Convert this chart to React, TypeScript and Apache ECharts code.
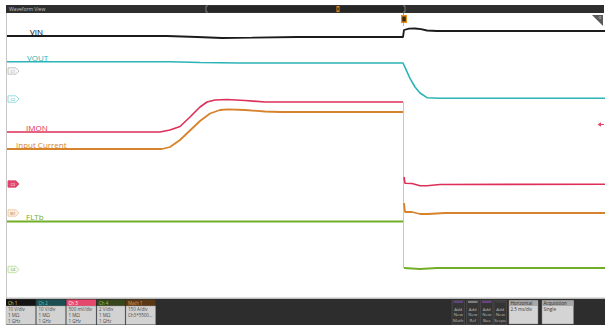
import React, { useEffect, useRef } from "react";
import * as echarts from "echarts";

// ---- Data (x: sample position across the record, y: level on screen) ----
const vinData: (number | null)[][] = [
  [0, 262], [160, 262], [190, 261], [215, 260], [245, 260.3], [290, 261], [396, 261],
  [397, 268], [402, 269.3], [408, 269.5], [414, 268.8], [420, 267.5], [430, 267], [598, 267],
];
const voutData: (number | null)[][] = [
  [0, 236.3], [163, 236.3], [193, 235.5], [233, 235], [396, 235],
  [403, 219.7], [408, 211], [413, 205], [420, 200.3], [433, 199.7], [598, 199.7],
];
const imonData: (number | null)[][] = [
  [0, 166], [153, 166], [163, 168], [173, 171.5], [183, 181], [193, 191], [200, 196],
  [208, 198], [220, 198.5], [238, 197.5], [258, 196], [396, 196],
  [396.5, null],
  [397, 121], [398, 114.7], [405, 114.5], [413, 112.3], [420, 112.2], [433, 113.5], [598, 113.7],
];
const inputCurrentData: (number | null)[][] = [
  [0, 149], [155, 149], [163, 151], [173, 158], [183, 167.5], [193, 177], [203, 184.5],
  [213, 188], [221, 188.7], [238, 188], [258, 186.5], [273, 186], [396, 186],
  [396.5, null],
  [397, 95], [398, 86], [405, 86], [413, 84], [421, 84], [438, 85], [598, 85],
];
const fltbData: (number | null)[][] = [
  [0, 76.5], [396, 76.5],
  [396.5, null],
  [397, 30], [413, 29], [430, 30], [598, 30],
];
const transitionData: number[][] = [[396.5, 196], [396.5, 30]];

const traceNames = ["VIN", "VOUT", "IMON", "Input Current", "FLTb"];

const chanHeaders = ["Ch 1", "Ch 2", "Ch 3", "Ch 4", "Math 1"];
const chanLine1 = ["10 V/div", "10 V/div", "500 mV/div", "2 V/div", "150 A/div"];
const chanLine2 = ["1 MΩ", "1 MΩ", "1 MΩ", "1 MΩ", "Ch3*5500..."];
const chanLine3 = ["1 GHz", "1 GHz", "1 GHz", "1 GHz", ""];
const buttonLabels = ["Math", "Ref", "Bus", "Scope"];
const horizontalValue = "2.5 ms/div";
const acquisitionValue = "Single";

const C_VIN = "#1c1c1c";
const C_VOUT = "#2bb3b5";
const C_IMON = "#dd2f58";
const C_IC = "#d7832c";
const C_FLT = "#72ad2a";

const FONT = "Open Sans";

function buildGraphic() {
  const g: any[] = [];
  // top bar
  g.push({ type: "rect", shape: { x: 6, y: 5, width: 598, height: 8 }, style: { fill: "#2e2e2e" }, silent: true });
  g.push({ type: "text", x: 9, y: 9, style: { text: "Waveform View", fontSize: 5, fill: "#c4c4c4", fontFamily: FONT, verticalAlign: "middle" } });
  g.push({ type: "rect", shape: { x: 206, y: 5.5, width: 199, height: 7 }, style: { fill: "#262626", stroke: "#3c3c3c", lineWidth: 0.6 } });
  g.push({ type: "polyline", shape: { points: [[208, 6], [206, 6], [206, 12], [208, 12]] }, style: { stroke: "#8a8a8a", lineWidth: 0.8, fill: "none" } });
  g.push({ type: "polyline", shape: { points: [[403, 6], [405, 6], [405, 12], [403, 12]] }, style: { stroke: "#8a8a8a", lineWidth: 0.8, fill: "none" } });
  g.push({ type: "rect", shape: { x: 336.5, y: 6, width: 3, height: 6 }, style: { fill: "#e08a1e" } });
  g.push({ type: "rect", shape: { x: 337.3, y: 7.5, width: 1.4, height: 3 }, style: { fill: "#3a2a10" } });

  // plot frame
  g.push({ type: "line", shape: { x1: 6.5, y1: 13, x2: 6.5, y2: 298 }, style: { stroke: "#c6c6c6", lineWidth: 1 } });
  g.push({ type: "rect", shape: { x: 6, y: 297.5, width: 599, height: 1.6 }, style: { fill: "#bdbdbd" } });
  g.push({ type: "rect", shape: { x: 6, y: 299, width: 599, height: 26 }, style: { fill: "#2d2d2d" } });

  // trigger marker
  g.push({ type: "line", shape: { x1: 403.5, y1: 13, x2: 403.5, y2: 15 }, style: { stroke: "#e8901e", lineWidth: 1 } });
  g.push({ type: "rect", shape: { x: 401, y: 15, width: 6, height: 8 }, style: { fill: "#e8901e" } });
  g.push({ type: "rect", shape: { x: 402.2, y: 16.5, width: 3.6, height: 5 }, style: { fill: "#3b2a12" } });
  g.push({ type: "line", shape: { x1: 403.5, y1: 23, x2: 403.5, y2: 26 }, style: { stroke: "#e8901e", lineWidth: 0.8 } });

  // top-right corner triangle
  g.push({ type: "polygon", shape: { points: [[592, 15], [603, 15], [603, 26]] }, style: { fill: "#5a5a5a" } });
  g.push({ type: "circle", shape: { cx: 600, cy: 17.5, r: 1 }, style: { fill: "none", stroke: "#dddddd", lineWidth: 0.5 } });

  // right-side IMON offset arrow
  g.push({ type: "polygon", shape: { points: [[597.5, 124.5], [601, 122.3], [601, 126.7]] }, style: { fill: "#e8456a" } });
  g.push({ type: "line", shape: { x1: 600, y1: 124.5, x2: 604, y2: 124.5 }, style: { stroke: "#e8456a", lineWidth: 1 } });

  // trace labels
  const labels = [
    { t: traceNames[0], x: 30, y: 31, c: "#000000" },
    { t: traceNames[1], x: 27, y: 57, c: C_VOUT },
    { t: traceNames[2], x: 26, y: 127.5, c: C_IMON },
    { t: traceNames[3], x: 16, y: 144.5, c: C_IC },
    { t: traceNames[4], x: 26, y: 216.5, c: C_FLT },
  ];
  labels.forEach((l) =>
    g.push({ type: "text", x: l.x, y: l.y, style: { text: l.t, fontSize: 8, fill: l.c, fontFamily: FONT, verticalAlign: "middle", lineWidth: 0 } })
  );

  // channel tags
  const tags = [
    { t: "C1", y: 71, stroke: "#b8b8b8", fill: "#f6f6f6", tc: "#888888" },
    { t: "C2", y: 99, stroke: "#7fd4d6", fill: "#ffffff", tc: "#2a9a9c" },
    { t: "C3", y: 184, stroke: "#e0456c", fill: "#e0456c", tc: "#ffffff" },
    { t: "M1", y: 213, stroke: "#f0c49a", fill: "#fbeee2", tc: "#9a6a3a" },
    { t: "C4", y: 269.5, stroke: "#b7dc95", fill: "#f3faee", tc: "#5a8a2a" },
  ];
  tags.forEach((tg) => {
    g.push({
      type: "polygon",
      shape: { points: [[8, tg.y - 3.2], [16, tg.y - 3.2], [19, tg.y], [16, tg.y + 3.2], [8, tg.y + 3.2]] },
      style: { fill: tg.fill, stroke: tg.stroke, lineWidth: 0.8 },
    });
    g.push({ type: "text", x: 13, y: tg.y, style: { text: tg.t, fontSize: 3.6, fill: tg.tc, fontFamily: FONT, align: "center", verticalAlign: "middle" } });
  });

  // channel badges
  const bx = [6, 36.5, 66.5, 97, 126];
  const bw = [29.5, 29, 29.5, 28, 29.5];
  const hFill = ["#141414", "#1d4f52", "#e5476d", "#37451d", "#5a3816"];
  const hText = ["#e6d34a", "#49c9cc", "#ffffff", "#8fcf47", "#e59a4a"];
  chanHeaders.forEach((h, i) => {
    g.push({ type: "rect", shape: { x: bx[i], y: 299.5, width: bw[i], height: 6.5 }, style: { fill: hFill[i] } });
    g.push({ type: "text", x: bx[i] + 2, y: 302.8, style: { text: h, fontSize: 4.5, fill: hText[i], fontFamily: FONT, verticalAlign: "middle" } });
    g.push({ type: "rect", shape: { x: bx[i], y: 306, width: bw[i], height: 18.5 }, style: { fill: "#d2d2d2", stroke: "#9a9a9a", lineWidth: 0.4 } });
    [chanLine1[i], chanLine2[i], chanLine3[i]].forEach((s, k) => {
      if (!s) return;
      g.push({ type: "text", x: bx[i] + 2, y: 309.3 + k * 5.8, style: { text: s, fontSize: 4.5, fill: "#4a4a4a", fontFamily: FONT, verticalAlign: "middle" } });
    });
  });

  // add-new buttons
  const btnX = [452, 466.5, 480.5, 494];
  const btnTop = ["#8a55c8", "#c8c8c8", "#a24fd0", "#4a4a4a"];
  buttonLabels.forEach((b, i) => {
    g.push({ type: "rect", shape: { x: btnX[i], y: 300.5, width: 12.5, height: 24.5 }, style: { fill: "#353535", stroke: "#555555", lineWidth: 0.6 } });
    g.push({ type: "rect", shape: { x: btnX[i] + 1.5, y: 301.5, width: 9.5, height: 1 }, style: { fill: btnTop[i] } });
    ["Add", "New", b].forEach((s, k) =>
      g.push({ type: "text", x: btnX[i] + 6.25, y: 308.8 + k * 5.5, style: { text: s, fontSize: 4.3, fill: "#bdbdbd", fontFamily: FONT, align: "center", verticalAlign: "middle" } })
    );
  });

  // horizontal / acquisition boxes
  const infoBoxes = [
    { x: 509, w: 29, h: "Horizontal", v: horizontalValue },
    { x: 542, w: 31.5, h: "Acquisition", v: acquisitionValue },
  ];
  infoBoxes.forEach((b) => {
    g.push({ type: "rect", shape: { x: b.x, y: 300.5, width: b.w, height: 23.5 }, style: { fill: "#d4d4d4", stroke: "#888888", lineWidth: 0.5 } });
    g.push({ type: "rect", shape: { x: b.x, y: 300.5, width: b.w, height: 5.5 }, style: { fill: "#a8a8a8" } });
    g.push({ type: "text", x: b.x + 1.5, y: 303.3, style: { text: b.h, fontSize: 4.5, fill: "#2a2a2a", fontFamily: FONT, verticalAlign: "middle" } });
    g.push({ type: "text", x: b.x + 1.5, y: 309, style: { text: b.v, fontSize: 4.5, fill: "#3a3a3a", fontFamily: FONT, verticalAlign: "middle" } });
  });

  return g;
}

export default function App() {
  const ref = useRef<HTMLDivElement>(null);
  useEffect(() => {
    if (!ref.current) return;
    const chart = echarts.init(ref.current, null, { renderer: "svg" });
    const mk = (name: string, data: any[], color: string, width: number, z = 2) => ({
      name,
      type: "line",
      data,
      showSymbol: false,
      connectNulls: false,
      z,
      lineStyle: { color, width },
      itemStyle: { color },
      emphasis: { disabled: true },
    });
    chart.setOption({
      animation: false,
      backgroundColor: "#ffffff",
      grid: { left: 7, right: 0, top: 12, bottom: 27 },
      xAxis: { type: "value", min: 0, max: 598, show: false },
      yAxis: { type: "value", min: 0, max: 286, show: false },
      series: [
        mk("transition", transitionData, "rgba(222,170,160,0.8)", 1, 1),
        mk(traceNames[0], vinData, C_VIN, 1.8),
        mk(traceNames[1], voutData, C_VOUT, 1.6),
        mk(traceNames[2], imonData, C_IMON, 1.6),
        mk(traceNames[3], inputCurrentData, C_IC, 1.8),
        mk(traceNames[4], fltbData, C_FLT, 2),
      ],
      graphic: buildGraphic(),
    });
    return () => chart.dispose();
  }, []);
  return <div ref={ref} style={{ position: "fixed", left: 0, top: 0, width: 605, height: 325 }} />;
}
